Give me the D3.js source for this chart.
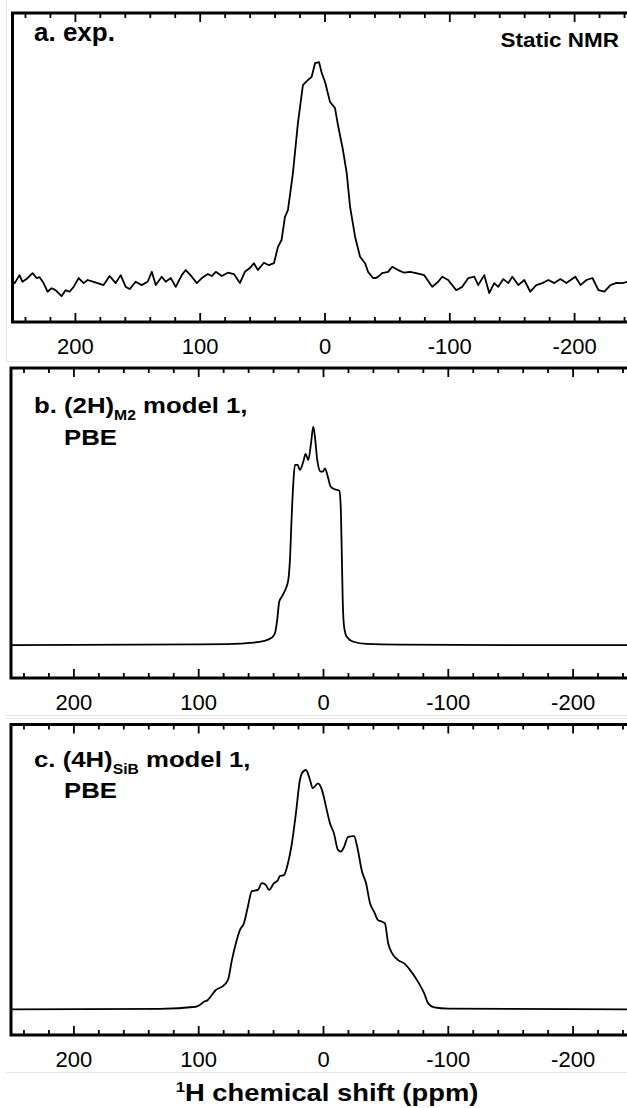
<!DOCTYPE html>
<html><head><meta charset="utf-8">
<script src="https://cdn.jsdelivr.net/npm/d3@7"></script>
<style>body{margin:0;background:#fff}svg{display:block}</style>
</head><body><svg id="chart" width="627" height="1108"></svg>
<script>
// ---------- data (ppm, intensity) ----------
const shiftA = [250, 248.2, 244.4, 242.0, 238.8, 233.9, 230.7, 228.3, 225.1, 221.9,
  218.7, 215.5, 210.7, 207.5, 204.3, 201.0, 197.0, 193.0, 189.8, 185.0,
  181.8, 177.0, 172.2, 167.3, 163.3, 159.3, 156.1, 151.3, 146.5, 141.7,
  138.4, 135.2, 130.4, 127.2, 123.2, 119.2, 114.4, 111.2, 106.3, 102.3,
  98.3, 93.5, 90.3, 87.1, 82.3, 77.4, 72.6, 67.8, 63.8, 59.8,
  56.6, 53.4, 48.6, 44.5, 40.5, 37.3, 34.4, 31.7, 29.3, 25.3,
  21.3, 17.3, 13.2, 10.3, 7.6, 4.4, 2.2, -0.4, -4.4, -8.4,
  -10.8, -14.8, -17.8, -20.5, -24.5, -28.5, -32.5, -34.9, -38.9, -41.3,
  -44.5, -46.1, -51.0, -54.2, -59.0, -63.8, -68.6, -73.4, -79.9, -86.3,
  -91.1, -94.3, -99.1, -105.5, -110.4, -115.2, -120.0, -123.2, -128.0, -132.0,
  -136.0, -139.2, -143.3, -147.3, -150.5, -155.3, -160.1, -164.9, -169.7, -174.6,
  -179.4, -184.2, -189.0, -193.8, -201.0, -205.1, -209.9, -214.7, -219.5, -224.3,
  -229.1, -233.9, -238.8, -242.8, -250];
const intensityA = [1.0, 0, 3.6, 0.6, 1.8, 4.5, 2.3, 2.7, 0, -3.9,
  -2.3, -3.2, -5.9, -3.2, -3.9, -1.7, 2.3, 0, 1.4, 0.6,
  0, -0.9, 3.2, 0, 3.6, -1.7, -2.7, 0.6, -0.9, 0.6,
  5.1, -0.9, 2.9, 0.6, 2.3, -1.7, 3.6, 5.9, 2.9, 0,
  2.3, 4.1, 3.2, 5.1, 3.2, 4.7, 4.1, 0, 5.1, 6.8,
  9.0, 5.9, 9.2, 8.1, 9.0, 16.4, 19.5, 30.0, 33.0, 49.8,
  72.4, 89.6, 91.9, 93.3, 99.5, 100, 95.0, 91.1, 82.0, 79.2,
  71.5, 60.2, 49.8, 34.5, 21.0, 11.9, 9.0, 5.1, 2.3, 2.3,
  3.6, 4.5, 5.1, 7.4, 5.9, 4.7, 5.1, 4.5, 3.6, -1.7,
  0.6, 2.9, 1.4, -3.2, -1.7, 2.3, 2.9, -0.9, 3.6, -4.5,
  0, -1.7, 1.8, 0, 2.9, -0.9, 1.4, -3.9, -0.9, 0,
  1.4, 0, 1.8, 0, 2.9, -0.9, 1.4, 2.3, -3.2, -3.9,
  -0.9, 0.1, 0, 0.6, 1.0];

const shiftB = [250, 150, 98.7, 72.2, 58.6, 47.9, 41.2, 38.5, 36.7, 35.1,
  33.1, 29.7, 27.8, 26.5, 25.1, 23.8, 22.5, 20.3, 18.5, 15.8,
  13.9, 11.8, 9.6, 7.8, 6.2, 4.6, 1.8, 0.2, -1.6, -3.5,
  -6.2, -9.6, -13.1, -14.2, -15.0, -15.8, -16.9, -19.0, -24.3, -35.0,
  -61.8, -150, -250];
const intensityB = [0, 0.2, 0.3, 0.5, 1.0, 1.8, 3.3, 5.4, 11.5, 19.8,
  22.1, 26.0, 29.8, 38.9, 58.8, 74.1, 82.5, 82.5, 80.2, 84.0,
  87.5, 84.7, 92.4, 100, 93.9, 84.7, 79.4, 79.4, 80.9, 77.9,
  72.5, 71.3, 70.7, 63.4, 43.5, 20.6, 8.4, 3.8, 1.5, 0.5,
  0.2, 0, 0];

const shiftC = [250, 130.8, 101.9, 98.7, 95.5, 92.3, 89.1, 85.9, 81.1, 76.2,
  73.0, 69.8, 66.6, 63.4, 60.2, 57.0, 52.2, 49.0, 45.7, 43.2,
  39.3, 36.1, 34.5, 31.3, 28.1, 24.9, 21.7, 18.5, 16.9, 13.6,
  10.4, 8.2, 4.0, 0.8, -2.4, -5.6, -8.8, -12.0, -14.3, -16.9,
  -20.1, -24.9, -27.4, -31.3, -34.5, -37.7, -40.9, -44.1, -47.4, -49.6,
  -52.2, -55.4, -60.2, -65.0, -69.8, -76.2, -81.1, -84.3, -89.1, -100.3,
  -250];
const intensityC = [0, 0.2, 1.1, 1.8, 3.2, 3.9, 6.0, 8.1, 9.4, 12.2,
  20.6, 27.6, 33.1, 35.9, 42.9, 49.4, 49.9, 52.7, 51.9, 49.9,
  52.7, 54.0, 55.7, 56.1, 61.0, 69.4, 81.9, 95.8, 98.6, 100,
  95.8, 92.4, 94.4, 91.6, 84.7, 77.7, 73.5, 66.6, 65.9, 67.9,
  72.1, 72.4, 67.9, 57.5, 52.7, 44.3, 40.8, 37.3, 36.6, 35.9,
  27.6, 23.4, 20.6, 19.2, 16.4, 11.5, 6.7, 2.5, 0.8, 0.3,
  0];

const majorTicks = [200, 100, 0, -100, -200];
const tickLabels = ["200", "100", "0", "-100", "-200"];
const minorTicks = [240, 220, 180, 160, 140, 120, 80, 60, 40, 20,
  -20, -40, -60, -80, -120, -140, -160, -180, -220, -240];
const xDomain = [250, -250];
const axisTitle = "H chemical shift (ppm)";

// ---------- layout ----------
const svg = d3.select("#chart");
const W = 624;
const FONT = "'Liberation Sans', Arial, Helvetica, sans-serif";

// faint outlines of the original figure tiles
const gray = "#e6e6e6";
[[6, 361.5, 627, 361.5], [6.5, 0, 6.5, 361.5], [6, 715.5, 627, 715.5],
 [6, 718.5, 627, 718.5], [6, 1072.5, 627, 1072.5]].forEach(l =>
  svg.append("line").attr("x1", l[0]).attr("y1", l[1]).attr("x2", l[2]).attr("y2", l[3])
    .attr("stroke", gray).attr("stroke-width", 1));

const panels = [
  { sh: shiftA, it: intensityA, left: 12.5, top: 13, bottom: 322, yd: [-17.6, 122.2], curve: d3.curveLinear,
    label: [{t: "a. exp."}], lx: 34, ly: 41, extra: true },
  { sh: shiftB, it: intensityB, left: 11, top: 368, bottom: 678, yd: [-15.1, 126.9], curve: d3.curveMonotoneX,
    label: [{t: "b. (2H)"}, {t: "M2", sub: true}, {t: " model 1,"}], lx: 34, ly: 413, l2y: 445 },
  { sh: shiftC, it: intensityC, left: 11, top: 724.5, bottom: 1035, yd: [-10.7, 119.0], curve: d3.curveMonotoneX,
    label: [{t: "c. (4H)"}, {t: "SiB", sub: true}, {t: " model 1,"}], lx: 34, ly: 767, l2y: 798 }
];

function stretchedText(g, x, y, parts, size, sx, anchor) {
  const t = g.append("text")
    .attr("transform", `translate(${x},${y}) scale(${sx},1)`)
    .attr("font-family", FONT).attr("font-weight", "bold")
    .attr("font-size", size).attr("text-anchor", anchor || "start").attr("fill", "#000");
  let shifted = 0;
  parts.forEach(p => {
    const s = t.append("tspan").text(p.t);
    if (p.sub) { s.attr("font-size", 14).attr("dy", 7); shifted = 7; }
    else if (p.sup) { s.attr("font-size", 14).attr("dy", -9); shifted = -9; }
    else if (shifted) { s.attr("dy", -shifted); shifted = 0; }
  });
  return t;
}

panels.forEach(p => {
  const g = svg.append("g");
  const x = d3.scaleLinear().domain(xDomain).range([p.left, p.left + W]);
  const y = d3.scaleLinear().domain(p.yd).range([p.bottom, p.top]);
  const data = p.sh.map((s, i) => ({ s, v: p.it[i] }));

  // spectrum
  g.append("path").datum(data)
    .attr("d", d3.line().x(d => x(d.s)).y(d => y(d.v)).curve(p.curve))
    .attr("fill", "none").attr("stroke", "#000").attr("stroke-width", 1.8)
    .attr("stroke-linejoin", "round");

  // inward ticks, top and bottom
  const tickStyle = sel => { sel.select(".domain").remove(); sel.selectAll("line").attr("stroke", "#000").attr("stroke-width", 1.8); };
  g.append("g").attr("transform", `translate(0,${p.top})`)
    .call(d3.axisBottom(x).tickValues(minorTicks).tickSize(5).tickFormat("")).call(tickStyle);
  g.append("g").attr("transform", `translate(0,${p.top})`)
    .call(d3.axisBottom(x).tickValues(majorTicks).tickSize(9).tickFormat("")).call(tickStyle);
  g.append("g").attr("transform", `translate(0,${p.bottom})`)
    .call(d3.axisTop(x).tickValues(minorTicks).tickSize(5).tickFormat("")).call(tickStyle);
  g.append("g").attr("transform", `translate(0,${p.bottom})`)
    .call(d3.axisTop(x).tickValues(majorTicks).tickSize(9).tickFormat("")).call(tickStyle);

  // tick labels
  const lab = g.append("g").attr("transform", `translate(0,${p.bottom})`)
    .call(d3.axisBottom(x).tickValues(majorTicks).tickSize(0).tickPadding(16)
      .tickFormat((d, i) => tickLabels[i]));
  lab.select(".domain").remove();
  lab.selectAll("text").attr("font-family", FONT).attr("font-size", 22).attr("fill", "#000");

  // frame
  g.append("rect").attr("x", p.left).attr("y", p.top).attr("width", W).attr("height", p.bottom - p.top)
    .attr("fill", "none").attr("stroke", "#000").attr("stroke-width", 3);

  // panel labels
  if (p.extra) {
    stretchedText(g, p.lx, p.ly, p.label, 26, 1.0);
    stretchedText(g, 619, 47, [{t: "Static NMR"}], 21, 1.07, "end");
  } else {
    stretchedText(g, p.lx, p.ly, p.label, 23, 1.12);
    stretchedText(g, 64, p.l2y, [{t: "PBE"}], 23, 1.12);
  }
});

// x-axis title
stretchedText(svg, 327, 1101, [{t: "1", sup: true}, {t: axisTitle}], 23, 1.19, "middle");
</script></body></html>
